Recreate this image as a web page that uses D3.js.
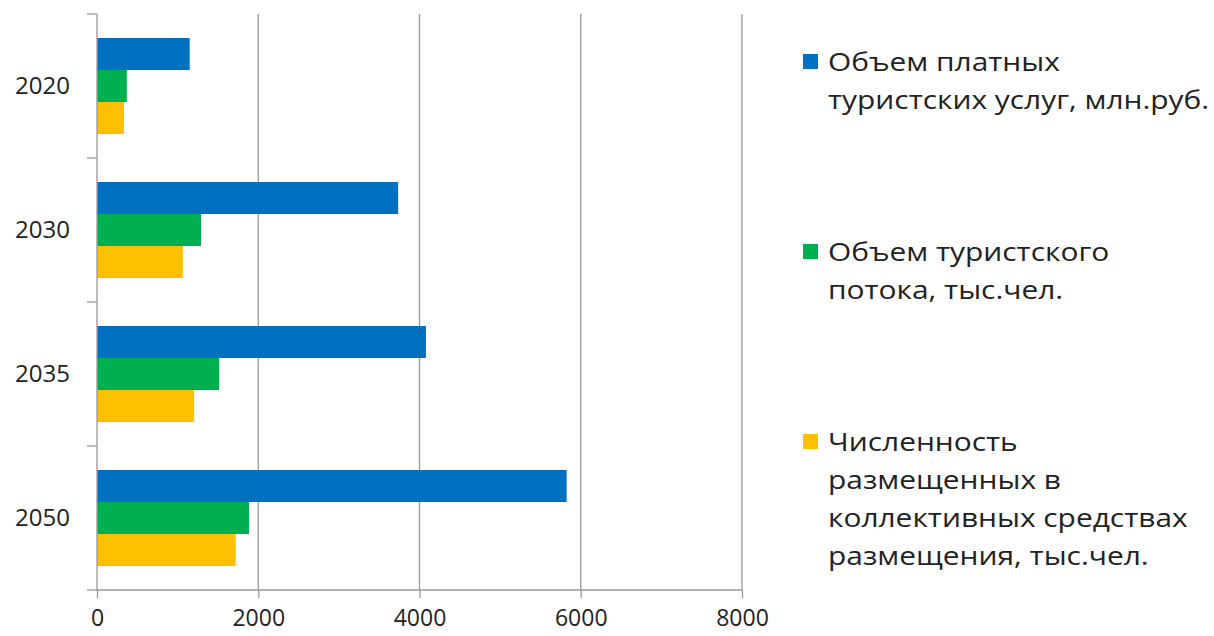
<!DOCTYPE html>
<meta charset="utf-8">
<style>
body { margin: 0; background: #fff; }
text { font-family: "Open Sans", Lato, sans-serif; fill: #222; }
.grid line { stroke: #9a9a9a; stroke-width: 1.3px; }
.axis path, .axis line { stroke: #9a9a9a; stroke-width: 1.3px; }
</style>
<svg width="1214" height="636"></svg>
<script src="https://cdn.jsdelivr.net/npm/d3@7"></script>
<script>

var years = ["2020", "2030", "2035", "2050"];
var seriesNames = [
  ["Объем платных", "туристских услуг, млн.руб."],
  ["Объем туристского", "потока, тыс.чел."],
  ["Численность", "размещенных в", "коллективных средствах", "размещения, тыс.чел."]
];
var paidServices = [1150, 3735, 4080, 5825];
var touristFlow = [370, 1290, 1515, 1885];
var accommodated = [335, 1065, 1205, 1720];
var xTicks = [0, 2000, 4000, 6000, 8000];
var colors = ["#0070C0", "#00B050", "#FFC000"];

var series = [paidServices, touristFlow, accommodated];

var svg = d3.select("svg"),
    plotLeft = 97, plotRight = 742, plotTop = 14, plotBottom = 590;

var x = d3.scaleLinear().domain([0, 8000]).range([plotLeft, plotRight]);
var y = d3.scaleBand().domain(years).range([plotTop, plotBottom]).paddingInner(1/3).paddingOuter(1/6);
var inner = d3.scaleBand().domain([0, 1, 2]).range([0, y.bandwidth()]);
var cat = d3.scaleBand().domain(years).range([plotTop, plotBottom]);

// vertical gridlines
svg.append("g").attr("class", "grid")
  .selectAll("line")
  .data(xTicks.slice(1))
  .enter().append("line")
    .attr("x1", d => x(d)).attr("x2", d => x(d))
    .attr("y1", plotTop).attr("y2", plotBottom);

// bars
years.forEach(function(yr, i) {
  series.forEach(function(s, j) {
    svg.append("rect")
      .attr("x", x(0))
      .attr("y", y(yr) + inner(j))
      .attr("width", x(s[i]) - x(0))
      .attr("height", inner.bandwidth())
      .attr("fill", colors[j]);
  });
});

// x axis
var xAxis = svg.append("g").attr("class", "axis")
  .attr("transform", "translate(0," + plotBottom + ")")
  .call(d3.axisBottom(x).tickValues(xTicks).tickFormat(d3.format("d"))
    .tickSize(8).tickSizeOuter(0).tickPadding(12));
xAxis.select(".domain").attr("d", "M" + plotLeft + ",0H" + plotRight);
xAxis.selectAll("text").style("font-size", "23px").attr("fill", "#222");

// y axis with ticks between categories
var yAxis = svg.append("g").attr("class", "axis")
  .attr("transform", "translate(" + plotLeft + ",0)");
yAxis.append("line").attr("x1", 0).attr("x2", 0).attr("y1", plotTop).attr("y2", plotBottom);
yAxis.selectAll(".tk")
  .data(years.map(d => cat(d)).concat([plotBottom]))
  .enter().append("line")
    .attr("x1", -10).attr("x2", 0)
    .attr("y1", d => d).attr("y2", d => d);
yAxis.selectAll(".lbl")
  .data(years)
  .enter().append("text")
    .attr("x", -27)
    .attr("y", d => cat(d) + cat.bandwidth() / 2)
    .attr("dy", "0.35em")
    .attr("text-anchor", "end")
    .style("font-size", "24px")
    .text(d => d);

// legend
var legendY = [62, 252, 442];
seriesNames.forEach(function(lines, j) {
  var g = svg.append("g").attr("transform", "translate(803," + legendY[j] + ")");
  g.append("rect").attr("x", 0).attr("y", -8).attr("width", 15).attr("height", 15).attr("fill", colors[j]);
  lines.forEach(function(t, k) {
    g.append("text")
      .attr("transform", "translate(25," + (k * 38) + ") scale(1.15,1)")
      .attr("dy", "0.35em")
      .style("font-size", "26px")
      .text(t);
  });
});

</script>
